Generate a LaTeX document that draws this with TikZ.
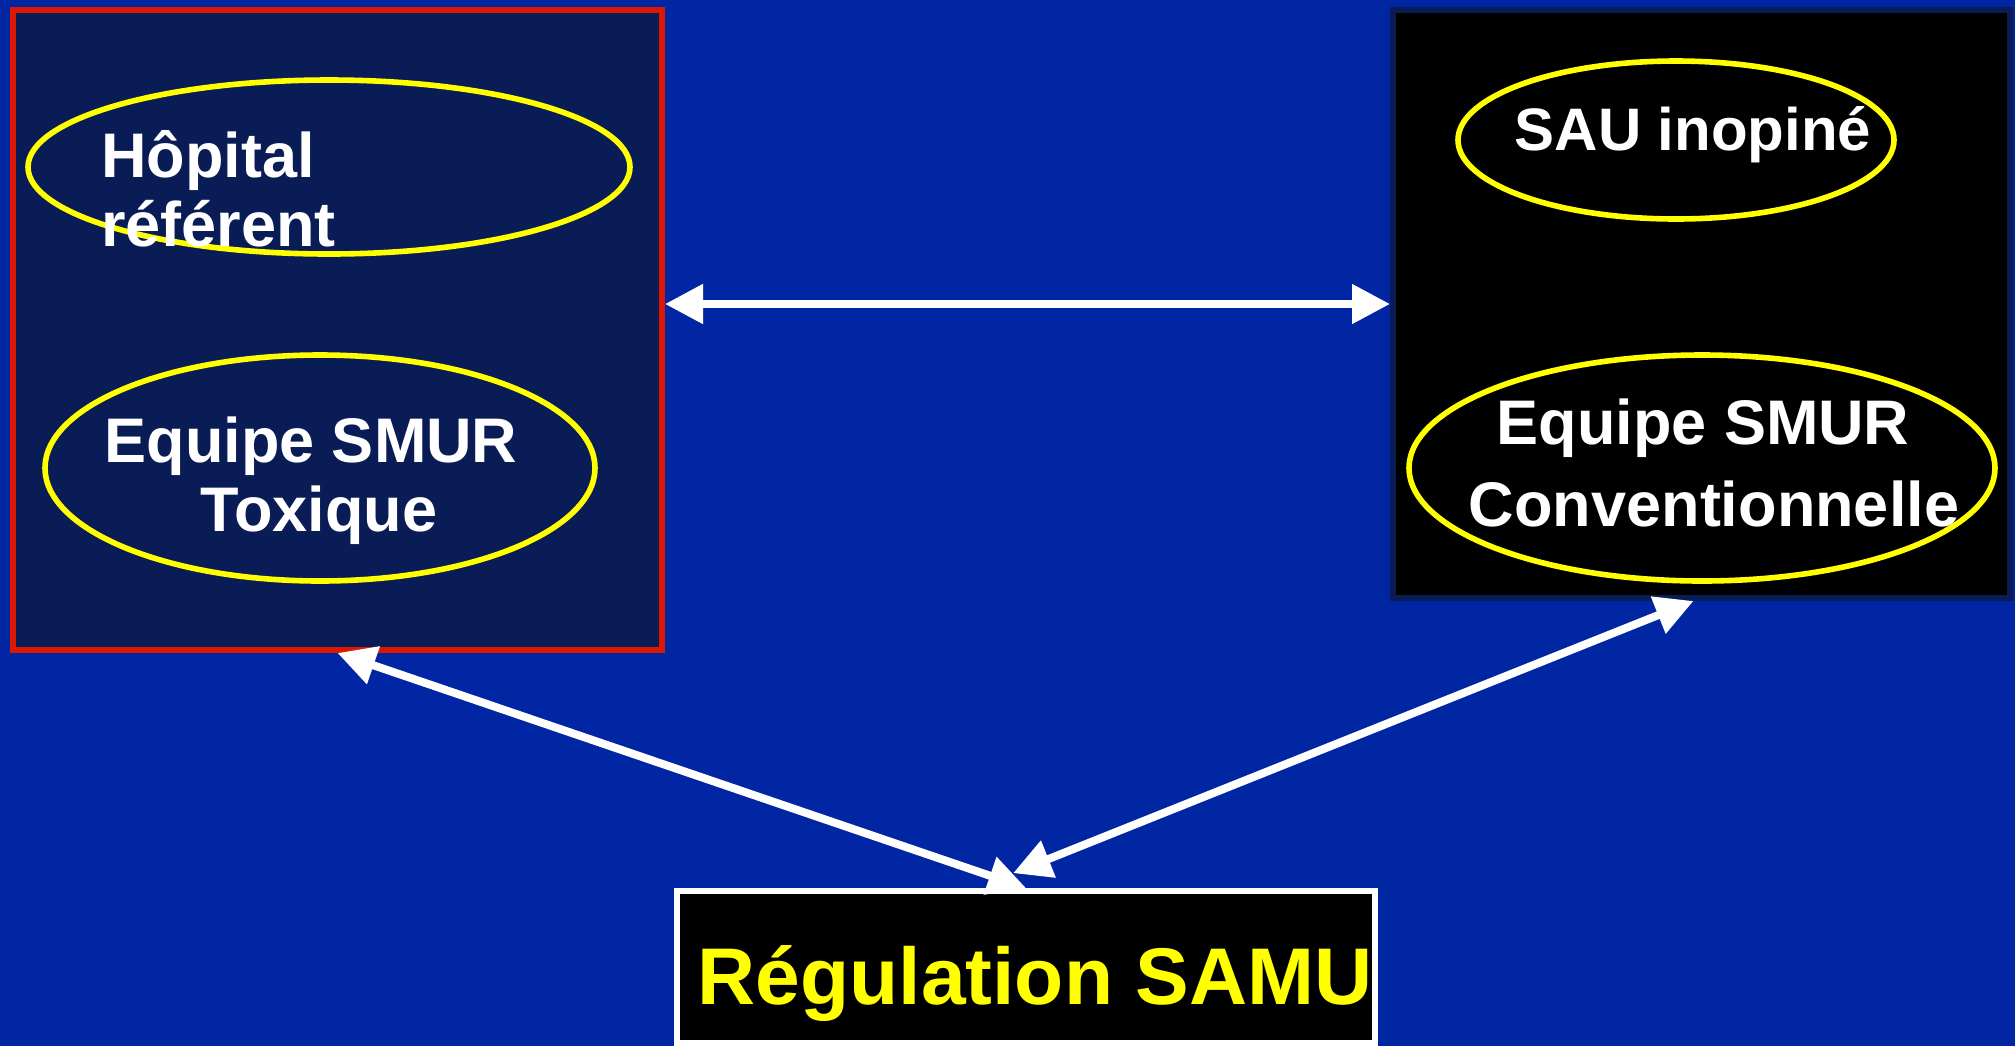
\documentclass[tikz,border=0pt]{standalone}
\usepackage{fontspec}
\setmainfont{Liberation Sans}
\usetikzlibrary{positioning, arrows.meta, shapes}

\definecolor{slideblue}{RGB}{0,38,163}
\definecolor{panelnavy}{RGB}{10,28,86}
\definecolor{framered}{RGB}{221,24,0}
\definecolor{ovalyellow}{RGB}{255,255,0}

\begin{document}
\begin{tikzpicture}[x=0.5pt, y=-0.5pt,
    panel/.style={draw, rectangle, line width=3pt},
    oval/.style={draw=ovalyellow, ellipse, line width=2.8pt},
    txt/.style={text=white, inner sep=0pt, font=\bfseries\fontsize{31.5pt}{34.5pt}\selectfont},
    link/.style={white, line width=4pt, {Triangle[length=19pt,width=19pt]}-{Triangle[length=19pt,width=19pt]}}]
    \useasboundingbox (0,0) rectangle (2015,1046);
    \fill[slideblue] (0,0) rectangle (2015,1046);

    % Nodes
    \node[panel, draw=framered, fill=panelnavy, minimum width=324.5pt, minimum height=320pt] (Hospital) at (337.5,330) {};
    \node[panel, draw=panelnavy, fill=black, minimum width=308.5pt, minimum height=294pt] (Emergency) at (1701.5,304) {};
    \node[panel, draw=white, fill=black, minimum width=349pt, minimum height=76pt, inner sep=0pt,
          text=ovalyellow, font=\bfseries\fontsize{40.2pt}{44pt}\selectfont, text height=37pt, text depth=0pt] (Samu) at (1026,967) {\hspace*{9pt}Régulation SAMU};

    \node[oval, minimum width=301pt, minimum height=87pt] (RefOval) at (329,167) {};
    \node[oval, minimum width=275pt, minimum height=113pt] (ToxOval) at (320,468) {};
    \node[oval, minimum width=218pt, minimum height=79pt] (SauOval) at (1676,140) {};
    \node[oval, minimum width=293pt, minimum height=113pt] (ConvOval) at (1702,468) {};

    \node[txt, align=left, anchor=base west] (RefText) at (101,246) {Hôpital\\référent};
    \node[txt, align=center, anchor=base] (ToxText) at (319,531) {Equipe SMUR\hspace*{8pt}\\Toxique};
    \node[txt, anchor=base, font=\bfseries\fontsize{30pt}{34pt}\selectfont] (SauText) at (1693,150) {SAU inopiné};
    \node[txt, align=center, anchor=base, font=\bfseries\fontsize{31.5pt}{41pt}\selectfont] (ConvText) at (1714,526) {Equipe SMUR\hspace*{11pt}\\Conventionnelle};

    % Paths
    \draw[link] (Hospital.east |- Emergency.west) -- (Emergency.west);
    \draw[link] (Hospital.south) -- (Samu.north);
    \draw[link, shorten >=20pt] ([xshift=-4pt]Emergency.south) -- ([xshift=-25pt]Samu.north);
\end{tikzpicture}
\end{document}
